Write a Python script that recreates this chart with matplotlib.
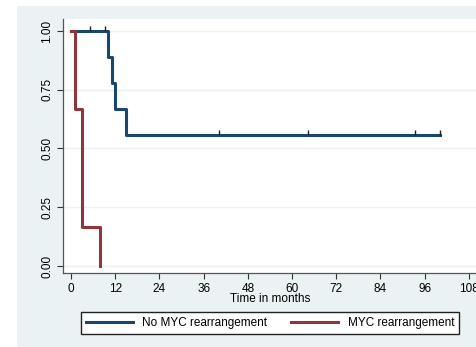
import matplotlib.pyplot as plt
from matplotlib.patches import Rectangle

# Kaplan-Meier estimates
no_myc_t = [0, 10, 11, 12, 15, 100.2]
no_myc_s = [1.0, 0.889, 0.778, 0.667, 0.556, 0.556]
no_myc_cens_t = [5.2, 9.3, 40.3, 64.3, 93.3, 100.2]
no_myc_cens_s = [1.0, 1.0, 0.556, 0.556, 0.556, 0.556]

myc_t = [0, 1, 3, 8]
myc_s = [1.0, 0.667, 0.167, 0.0]

x_ticks = [0, 12, 24, 36, 48, 60, 72, 84, 96, 108]
y_ticks = [0.0, 0.25, 0.5, 0.75, 1.0]
y_labels = ["0.00", "0.25", "0.50", "0.75", "1.00"]

navy = "#1A476F"
maroon = "#90353B"
bg = "#EAF2F3"

plt.rcParams['font.family'] = ['Liberation Sans', 'DejaVu Sans']
plt.rcParams['font.size'] = 8.5

fig = plt.figure(figsize=(4.77, 3.47), dpi=100, facecolor="white")
# graph region background
fig.add_artist(Rectangle((17 / 477, 0), 1 - 17 / 477, 341 / 347,
                         transform=fig.transFigure, facecolor=bg,
                         edgecolor="none", zorder=-5))

ax = fig.add_axes([63 / 477, 74 / 347, 1 - 63 / 477, 254 / 347])
ax.set_facecolor("white")

for y in y_ticks:
    ax.axhline(y, color=bg, lw=1, zorder=1)

ax.step(no_myc_t, no_myc_s, where="post", color=navy, lw=2.2,
        label="No MYC rearrangement", zorder=3)
ax.step(myc_t, myc_s, where="post", color=maroon, lw=2.2,
        label="MYC rearrangement", zorder=3)

# censoring ticks
ax.vlines(no_myc_cens_t, no_myc_cens_s, [s + 0.022 for s in no_myc_cens_s],
          color="#222222", lw=1, zorder=4)

ax.set_xlim(-2.17, 110.2)
ax.set_ylim(-0.03, 1.051)
ax.set_xticks(x_ticks)
ax.set_yticks(y_ticks)
ax.set_yticklabels(y_labels, rotation=90, va="center")
ax.tick_params(direction="out", length=4, width=0.8, color="#333333",
               labelsize=8.5, pad=3)
ax.set_xlabel("Time in months", fontsize=8.5, labelpad=-1)

for side in ["top", "right"]:
    ax.spines[side].set_visible(False)
for side in ["left", "bottom"]:
    ax.spines[side].set_color("#555555")
    ax.spines[side].set_linewidth(0.9)

fig.legend(loc="center", bbox_to_anchor=(270 / 477, 24 / 347), ncol=2,
           frameon=True, fancybox=False, edgecolor="#222222",
           handlelength=4, columnspacing=2, fontsize=8.5, borderpad=0.4,
           framealpha=1)

fig.savefig("out.png", dpi=100, facecolor="white")
